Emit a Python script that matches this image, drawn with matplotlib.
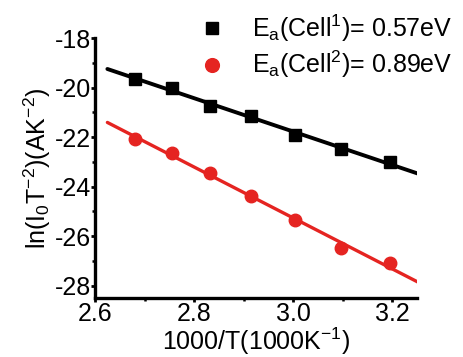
import numpy as np
import matplotlib.pyplot as plt

plt.rcParams['font.family'] = ['Liberation Sans', 'DejaVu Sans']
plt.rcParams['mathtext.fontset'] = 'custom'
plt.rcParams['mathtext.rm'] = 'Liberation Sans'
plt.rcParams['mathtext.it'] = 'Liberation Sans'
plt.rcParams['mathtext.default'] = 'regular'

# data
inv_T = [2.681, 2.755, 2.833, 2.915, 3.003, 3.096, 3.195]
cell1 = [-19.67, -20.0, -20.73, -21.13, -21.91, -22.49, -23.0]
cell2 = [-22.07, -22.63, -23.47, -24.4, -25.37, -26.47, -27.09]
labels = ['E$_a$(Cell$^1$)= 0.57eV', 'E$_a$(Cell$^2$)= 0.89eV']
fit_range = [2.625, 3.252]

red = '#e52421'

fig = plt.figure(figsize=(4.63, 3.57), dpi=100)
ax = fig.add_axes([95/463, 1-298/357, (417-95)/463, (298-38)/357])

xf = np.array(fit_range)
for y, c, lw in [(cell1, 'black', 2.8), (cell2, red, 2.4)]:
    p = np.polyfit(inv_T, y, 1)
    ax.plot(xf, np.polyval(p, xf), color=c, lw=lw, solid_capstyle='round', zorder=2)

h1, = ax.plot(inv_T, cell1, 's', color='black', ms=8.5, ls='none', zorder=3)
h2, = ax.plot(inv_T, cell2, 'o', color=red, ms=9, ls='none', zorder=3)

ax.set_xlim(2.6, 3.25)
ax.set_ylim(-28.5, -18)
ax.set_xticks([2.6, 2.8, 3.0, 3.2])
ax.set_xticks([2.7, 2.9, 3.1], minor=True)
ax.set_yticks([-28, -26, -24, -22, -20, -18])
ax.set_yticks([-27, -25, -23, -21, -19], minor=True)
ax.set_xticklabels(['2.6', '2.8', '3.0', '3.2'])
ax.set_yticklabels(['-28', '-26', '-24', '-22', '-20', '-18'])

for s in ['top', 'right']:
    ax.spines[s].set_visible(False)
for s in ['left', 'bottom']:
    ax.spines[s].set_linewidth(2.4)
ax.tick_params(which='major', length=3, width=2, labelsize=18, pad=0)
ax.tick_params(which='minor', length=2, width=1.8)

ax.set_xlabel('1000/T(1000K$^{-1}$)', fontsize=18, labelpad=-0.5)
ax.set_ylabel('ln(I$_0$T$^{-2}$)(AK$^{-2}$)', fontsize=18, labelpad=1)

fig.legend([h1, h2], labels, loc='upper right', bbox_to_anchor=(1.005, 1.0),
           frameon=False, fontsize=18, handletextpad=1.1, markerscale=1.1,
           borderaxespad=0.1, labelspacing=0.2, handlelength=1.0)

fig.savefig('out.png', dpi=100)
